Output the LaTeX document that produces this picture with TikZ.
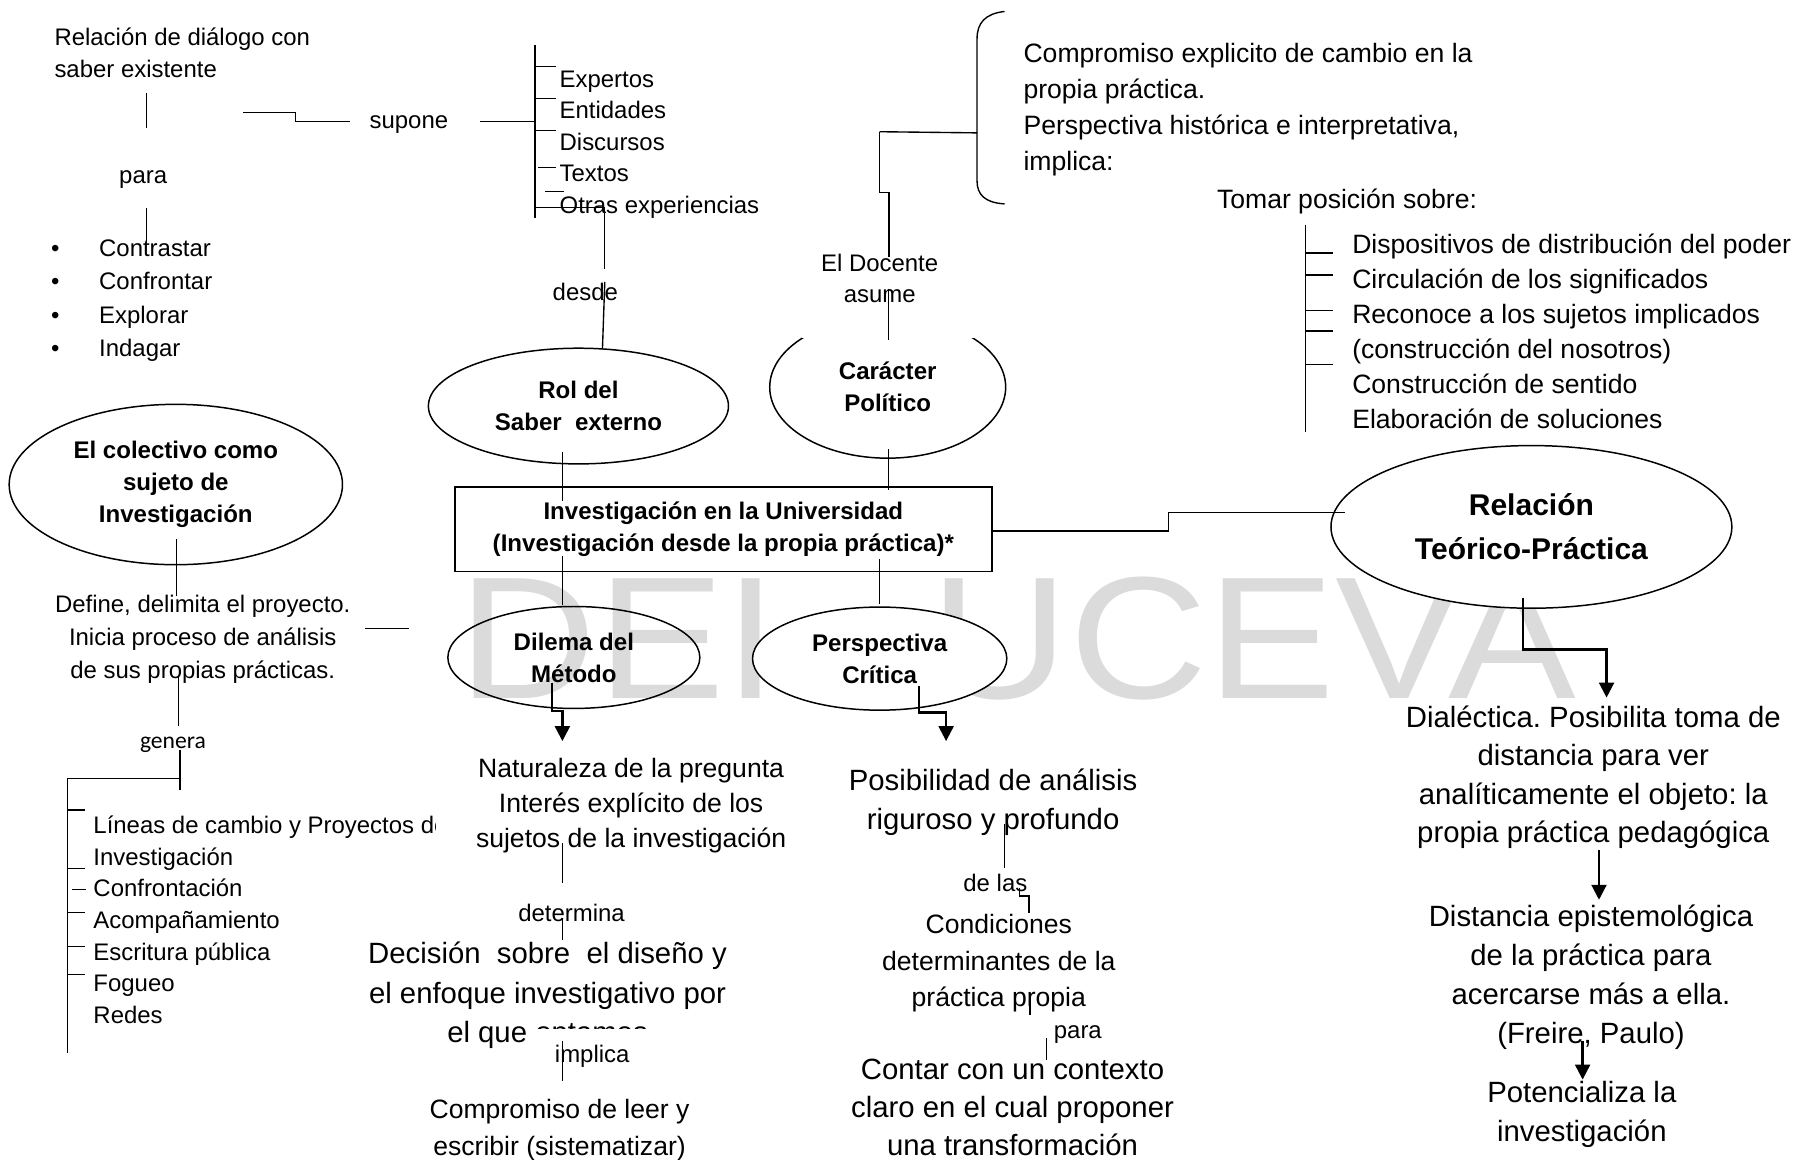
\documentclass[tikz,border=0pt]{standalone}
\usepackage{fontspec}
\setmainfont{Liberation Sans}
\newfontfamily\carlito{Carlito}
\usetikzlibrary{arrows.meta,shapes.geometric}
\definecolor{marca}{RGB}{219,219,219}
\newcommand{\tS}{\fontsize{10.45pt}{13.75pt}\selectfont}
\newcommand{\tM}{\fontsize{11.6pt}{15.25pt}\selectfont}
\newcommand{\tL}{\fontsize{12.8pt}{17pt}\selectfont}
\newcommand{\tB}{\bfseries\fontsize{10.5pt}{14pt}\selectfont}
\newcommand{\vin}{\makebox[21pt][l]{\textbullet}}
\frenchspacing
\tikzset{
  txt/.style={inner sep=0pt, align=center, font=\tS},
  txtM/.style={txt, font=\tM},
  txtL/.style={txt, font=\tL},
  elip/.style={ellipse, draw, line width=0.65pt, inner sep=0pt, align=center, font=\tB},
  flecha/.style={line width=1pt, -{Triangle[width=6.5pt,length=6.5pt]}},
  marcaagua/.style={inner sep=0pt, anchor=base west, text=marca, font=\fontsize{76pt}{76pt}\selectfont},
}

\begin{document}
\begin{tikzpicture}[x=0.5pt, y=-0.5pt, line width=0.6pt]
\useasboundingbox (0,0) rectangle (1568,1012);

% marca de agua
\node[marcaagua] (marcaA) at (400,609.5) {\scalebox{1.1}[1]{DEI}};
\node[marcaagua] (marcaB) at (812,609.5) {\scalebox{1.1}[1]{UCEVA}};

% saber externo
\node[txt, align=left, anchor=west] (dialogo) at (47,46) {Relación de diálogo con\\saber existente};
\node[txt] (para) at (125,157) {para};
\node[txt, align=left, anchor=west, font=\fontsize{10.45pt}{14.5pt}\selectfont] (verbos) at (44,262.5)
  {\vin Contrastar\\\vin Confrontar\\\vin Explorar\\\vin Indagar};
\node[txt] (supone) at (357,108.5) {supone};
\node[txt, align=left, anchor=west] (fuentes) at (488,126) {Expertos\\Entidades\\Discursos\\Textos\\Otras experiencias};
\node[txt] (desde) at (511,255) {desde};

\draw (128,81) -- (128,112);
\draw (128,182) -- (128,210);
\draw (212,98) -- (258,98) -- (258,106) -- (306,106);
\draw (419,106) -- (467,106);
\draw (467,39) -- (467,190);
\draw (468,58) -- (485,58);
\draw (468,86) -- (485,86);
\draw (468,114) -- (485,114);
\draw (470,146) -- (485,146);
\draw (476,167) -- (492,167);
\draw (467,181) -- (528,181) -- (528,235);
\draw (528,246) -- (526,304);

% caracter politico
\node[elip, minimum width=103pt, minimum height=62pt] (caracter) at (775,338) {Carácter\\Político};
\fill[white] (700,262) rectangle (850,295);
\node[txt] (docente) at (768,243) {El Docente\\asume};
\node[txt, align=left, anchor=west, font=\fontsize{11.6pt}{15.75pt}\selectfont] (compromiso) at (893,96)
  {Compromiso explicito de cambio en la\\propia práctica.\\Perspectiva histórica e interpretativa,\\implica:};
\node[txtM] (tomar) at (1176,176) {Tomar posición sobre:};
\node[txt, align=left, anchor=west, font=\fontsize{11.6pt}{15.3pt}\selectfont] (poder) at (1180,289)
  {Dispositivos de distribución del poder\\Circulación de los significados\\Reconoce a los sujetos implicados\\(construcción del nosotros)\\Construcción de sentido\\Elaboración de soluciones};

\draw (877,10) .. controls (860,12) and (853,20) .. (853,34) -- (853,158) .. controls (853,170) and (860,177) .. (877,178);
\draw (768,115) -- (853,116);
\draw (768,115) -- (768,168) -- (776,168) -- (776,224);
\draw (775.5,252) -- (775.5,297);
\draw (1140,196) -- (1140,377);
\foreach \y in {221,240,271,289,318}
  \draw (1140,\y) -- (1164,\y);

% centro
\node[elip, minimum width=131pt, minimum height=50.5pt] (rol) at (505,354.5) {Rol del\\Saber\ \ externo};
\node[draw, line width=0.8pt, minimum width=234.5pt, minimum height=37pt, inner sep=0pt, align=center, font=\tB] (investigacion) at (631.5,462)
  {Investigación en la Universidad\\(Investigación desde la propia práctica)*};
\node[elip, minimum width=145.5pt, minimum height=70pt] (colectivo) at (153.5,423) {El colectivo como\\sujeto de\\Investigación};
\node[elip, minimum width=110pt, minimum height=44.5pt] (dilema) at (501,574) {Dilema del\\Método};
\node[elip, fill=white, minimum width=111pt, minimum height=45pt] (perspectiva) at (768,575) {Perspectiva\\Crítica};
\node[elip, fill=white, minimum width=175pt, minimum height=71pt, font=\bfseries\fontsize{13.1pt}{19pt}\selectfont] (relacion) at (1337,460)
  {Relación\\Teórico-Práctica};

\draw (491,395) -- (491,437);
\draw (775.6,392) -- (775.6,428);
\draw (491,485) -- (491,528);
\draw (768,488) -- (768,527);
\draw (866,463.5) -- (1020,463.5) -- (1020,447.6) -- (1174,447.6);

% colectivo
\node[txt, font=\fontsize{10.45pt}{14.5pt}\selectfont] (define) at (177,558)
  {Define, delimita el proyecto.\\Inicia proceso de análisis\\de sus propias prácticas.};
\node[txt, font=\carlito\fontsize{10.3pt}{12pt}\selectfont] (genera) at (151,650.5) {genera};
\begin{scope}
  \clip (0,690) rectangle (380,905);
  \node[txt, align=left, anchor=west, font=\fontsize{10.45pt}{13.85pt}\selectfont] (lineas) at (81,803)
    {Líneas de cambio y Proyectos de\\Investigación\\Confrontación\\Acompañamiento\\Escritura pública\\Fogueo\\Redes};
\end{scope}

\draw (154,471) -- (154,520);
\draw (319,548.5) -- (357.5,548.5);
\draw (156,590) -- (156,634);
\draw (157,655) -- (157,690);
\draw (59,679.5) -- (157,679.5);
\draw (59,679.5) -- (59,919.6);
\foreach \y in {707,758,796.4,826.4,850.6}
  \draw (59,\y) -- (74,\y);
\draw (63,776.4) -- (75,776.4);

% metodo
\node[txtM] (naturaleza) at (551,703) {Naturaleza de la pregunta\\Interés explícito de los\\sujetos de la investigación};
\node[txt] (determina) at (499,797) {determina};
\node[txtL, font=\fontsize{12.8pt}{17.25pt}\selectfont] (decision) at (478,869)
  {Decisión\ \ sobre\ \ el diseño y\\el enfoque investigativo por\\el que optamos};
\fill[white] (466,898.5) rectangle (570,935);
\node[txt] (implica) at (517,922) {implica};
\node[txt, font=\fontsize{11.6pt}{16pt}\selectfont] (leer) at (488.5,986.5) {Compromiso de leer y\\escribir (sistematizar)};

\draw[flecha] (482,596) -- (482,621) -- (491,621) -- (491,647);
\draw (491,736) -- (491,771);
\draw (491,801.7) -- (491,820.6);
\draw (491,909) -- (491,944);

% perspectiva critica
\node[txtL] (posibilidad) at (867,700) {Posibilidad de análisis\\riguroso y profundo};
\node[txt] (delas) at (869,771) {de las};
\node[txt, font=\fontsize{11.6pt}{16pt}\selectfont] (condiciones) at (872,841) {Condiciones\\determinantes de la\\práctica propia};
\node[txt] (para2) at (941,903) {para};
\node[txt, font=\fontsize{12.8pt}{16.5pt}\selectfont] (contar) at (884,967)
  {Contar con un contexto\\claro en el cual proponer\\una transformación};

\draw[flecha] (802.5,599) -- (802.5,622) -- (826,622) -- (826,647);
\draw (877,719) -- (877,758);
\draw (890,775) -- (890,782.3) -- (898.4,782.3) -- (898.4,797);
\draw (899.3,867) -- (899.3,886);
\draw (913.8,906.4) -- (913.8,925.4);

% relacion teorico-practica
\node[txt, font=\fontsize{12.8pt}{16.85pt}\selectfont] (dialectica) at (1391,678.5)
  {Dialéctica. Posibilita toma de\\distancia para ver\\analíticamente el objeto: la\\propia práctica pedagógica};
\node[txtL] (distancia) at (1389,853.5)
  {Distancia epistemológica\\de la práctica para\\acercarse más a ella.\\(Freire, Paulo)};
\node[txtL] (potencializa) at (1381,973) {Potencializa la\\investigación};

\draw[flecha] (1329.4,522) -- (1329.4,567) -- (1402.6,567) -- (1402.6,609);
\draw[flecha] (1396,742) -- (1396,785.5);
\draw[flecha] (1381.7,909) -- (1381.7,942.5);
\end{tikzpicture}
\end{document}
